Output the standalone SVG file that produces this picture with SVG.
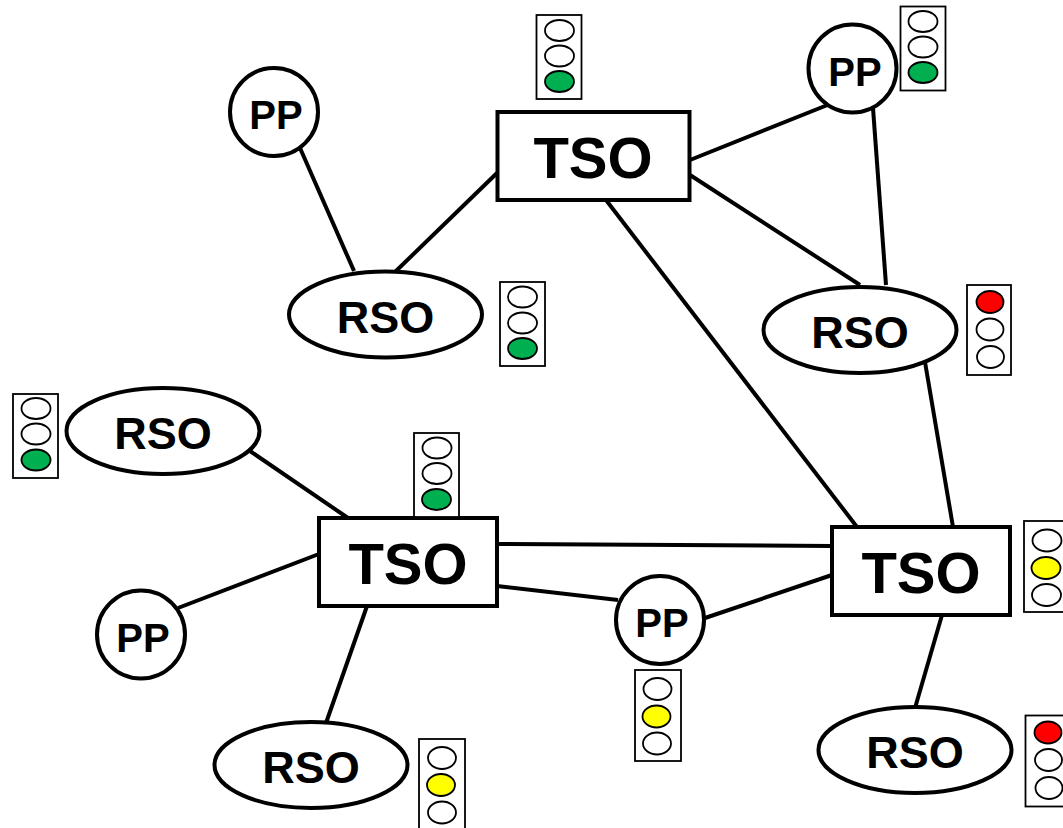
<svg xmlns="http://www.w3.org/2000/svg" width="1063" height="828" viewBox="0 0 1063 828">
<style>
text{font-family:"Liberation Sans",Arial,sans-serif;font-weight:bold;fill:#000;text-anchor:middle}
.t{font-size:58px}.r{font-size:45px}.p{font-size:40px}
.n{fill:#fff;stroke:#000;stroke-width:4}
.c line{stroke:#000;stroke-width:4;fill:none}
.b{fill:#fff;stroke:#000;stroke-width:1.8}
.l{fill:#fff;stroke:#000;stroke-width:1.8}
.g{fill:#00b050}.y{fill:#ff0}.d{fill:#f00}
</style>
<rect width="1063" height="828" fill="#fff"/>
<g id="connectors" class="c">
<line x1="300" y1="148" x2="354" y2="271"/>
<line x1="395" y1="272" x2="497" y2="173"/>
<line x1="690" y1="160" x2="830" y2="104"/>
<line x1="690" y1="175" x2="860" y2="285"/>
<line x1="873" y1="108" x2="886" y2="285"/>
<line x1="606" y1="200" x2="857" y2="527"/>
<line x1="925" y1="362" x2="953" y2="527"/>
<line x1="250" y1="451" x2="348" y2="518"/>
<line x1="178" y1="608" x2="319" y2="554"/>
<line x1="367" y1="606" x2="326" y2="723"/>
<line x1="497" y1="544" x2="832" y2="546"/>
<line x1="497" y1="586" x2="618" y2="600"/>
<line x1="705" y1="618" x2="832" y2="575"/>
<line x1="942" y1="615" x2="915" y2="708"/>
</g>
<g id="tso-top"><rect class="n" x="497.500" y="112" width="192" height="88"/><text class="t" x="593" y="178">TSO</text></g>
<g id="tso-left"><rect class="n" x="319" y="518" width="178" height="88"/><text class="t" x="408" y="584">TSO</text></g>
<g id="tso-right"><rect class="n" x="832" y="527" width="178" height="88"/><text class="t" x="921" y="593">TSO</text></g>
<g id="pp-1"><circle class="n" cx="274" cy="112" r="44"/><text class="p" x="276" y="129">PP</text></g>
<g id="pp-2"><circle class="n" cx="852.500" cy="68.500" r="44"/><text class="p" x="855" y="86">PP</text></g>
<g id="pp-3"><circle class="n" cx="141" cy="634.500" r="44"/><text class="p" x="143" y="652">PP</text></g>
<g id="pp-4"><circle class="n" cx="660" cy="620" r="44"/><text class="p" x="662" y="637">PP</text></g>
<g id="rso-1"><ellipse class="n" cx="385.500" cy="314.500" rx="96.500" ry="43"/><text class="r" x="385.500" y="333">RSO</text></g>
<g id="rso-2"><ellipse class="n" cx="860" cy="330" rx="96.500" ry="43"/><text class="r" x="860" y="348">RSO</text></g>
<g id="rso-3"><ellipse class="n" cx="163" cy="431" rx="96.500" ry="43"/><text class="r" x="163" y="449">RSO</text></g>
<g id="rso-4"><ellipse class="n" cx="311" cy="765" rx="96.500" ry="43"/><text class="r" x="311" y="783">RSO</text></g>
<g id="rso-5"><ellipse class="n" cx="915" cy="750" rx="96.500" ry="43"/><text class="r" x="915" y="768">RSO</text></g>
<g id="light-1"><rect class="b" x="536.500" y="15" width="45" height="84"/><ellipse class="l" cx="559.500" cy="30.500" rx="14.500" ry="10.500"/><ellipse class="l" cx="559.500" cy="56" rx="14.500" ry="10.500"/><ellipse class="l g" cx="559.500" cy="81.500" rx="14.500" ry="10.500"/></g>
<g id="light-2"><rect class="b" x="900.500" y="6.500" width="45" height="84"/><ellipse class="l" cx="923" cy="21.500" rx="14.500" ry="10.500"/><ellipse class="l" cx="923" cy="47" rx="14.500" ry="10.500"/><ellipse class="l g" cx="923" cy="72.500" rx="14.500" ry="10.500"/></g>
<g id="light-3"><rect class="b" x="500" y="282" width="45" height="84"/><ellipse class="l" cx="522.500" cy="297" rx="14.500" ry="10.500"/><ellipse class="l" cx="522.500" cy="323" rx="14.500" ry="10.500"/><ellipse class="l g" cx="522.500" cy="348.500" rx="14.500" ry="10.500"/></g>
<g id="light-4"><rect class="b" x="967" y="285" width="44" height="90"/><ellipse class="l d" cx="990" cy="302" rx="13.500" ry="11"/><ellipse class="l" cx="990" cy="329.500" rx="13.500" ry="11"/><ellipse class="l" cx="990.500" cy="357" rx="13.500" ry="11"/></g>
<g id="light-5"><rect class="b" x="13" y="394" width="45" height="84"/><ellipse class="l" cx="36" cy="408.500" rx="14.500" ry="10.500"/><ellipse class="l" cx="36" cy="434" rx="14.500" ry="10.500"/><ellipse class="l g" cx="36" cy="460" rx="14.500" ry="10.500"/></g>
<g id="light-6"><rect class="b" x="414" y="433" width="45" height="84"/><ellipse class="l" cx="437" cy="448" rx="14.500" ry="10.500"/><ellipse class="l" cx="437" cy="473.500" rx="14.500" ry="10.500"/><ellipse class="l g" cx="436.500" cy="499.500" rx="14.500" ry="10.500"/></g>
<g id="light-7"><rect class="b" x="1024" y="521" width="46" height="91"/><ellipse class="l" cx="1047" cy="540.500" rx="14.500" ry="11"/><ellipse class="l y" cx="1046" cy="568" rx="14.500" ry="11"/><ellipse class="l" cx="1046.500" cy="595" rx="14.500" ry="11"/></g>
<g id="light-8"><rect class="b" x="1025.500" y="715.500" width="46" height="91"/><ellipse class="l d" cx="1048" cy="732.500" rx="13.500" ry="11"/><ellipse class="l" cx="1048.500" cy="760" rx="13.500" ry="11"/><ellipse class="l" cx="1049" cy="788" rx="13.500" ry="11"/></g>
<g id="light-9"><rect class="b" x="635" y="670" width="46" height="91"/><ellipse class="l" cx="657.500" cy="689" rx="14" ry="11"/><ellipse class="l y" cx="656.500" cy="716.500" rx="14" ry="11"/><ellipse class="l" cx="657" cy="743.500" rx="14" ry="11"/></g>
<g id="light-10"><rect class="b" x="419" y="739" width="46" height="90"/><ellipse class="l" cx="442" cy="758" rx="14" ry="11"/><ellipse class="l y" cx="441" cy="785" rx="14" ry="11"/><ellipse class="l" cx="442" cy="812.500" rx="14" ry="11"/></g>
</svg>
